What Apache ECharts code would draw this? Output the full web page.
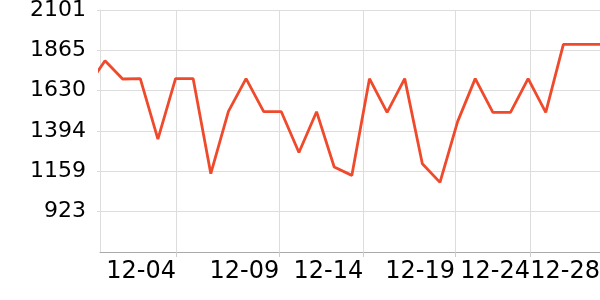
<!DOCTYPE html>
<html>
<head>
<meta charset="utf-8">
<script src="https://cdn.jsdelivr.net/npm/echarts@6/dist/echarts.min.js"></script>
<style>html,body{margin:0;padding:0;background:#fff}#c{width:600px;height:300px}</style>
</head>
<body>
<div id="c"></div>
<script>
// data point index positions (evenly spaced samples)
var values = [1655, 1805, 1698, 1700, 1347, 1700, 1700, 1145, 1509, 1700, 1507, 1507, 1269, 1507, 1184, 1135,
              1700, 1503, 1700, 1203, 1094, 1449, 1700, 1503, 1503, 1700, 1503, 1900, 1900, 1900, 1900];
var tickLabels = ['12-04', '12-09', '12-14', '12-19', '12-24', '12-28'];
var tickPositions = [5.027, 10.886, 15.651, 20.853, 25.107, 29.077];
var xMin = 0.715, xMax = 29.077;
var yMin = 687.5, yMax = 2101, yInterval = 235.583;

var seriesData = values.map(function (v, i) { return [i, v]; });

var chart = echarts.init(document.getElementById('c'), null, {renderer: 'canvas'});
chart.setOption({
  animation: false,
  grid: {left: 100, right: 0, top: 10, bottom: 48, containLabel: false, outerBoundsMode: 'none'},
  xAxis: {
    type: 'value',
    min: xMin, max: xMax,
    axisLine: {show: true, lineStyle: {color: '#aaaaaa', width: 1}},
    axisTick: {show: true, length: 5, customValues: tickPositions, lineStyle: {color: '#cccccc'}},
    splitLine: {show: true, lineStyle: {color: '#dddddd', width: 1}},
    axisLabel: {
      customValues: tickPositions,
      align: 'right',
      margin: 8,
      fontSize: 24,
      fontFamily: 'DejaVu Sans',
      color: '#000',
      formatter: function (v) {
        for (var i = 0; i < tickPositions.length; i++) {
          if (Math.abs(tickPositions[i] - v) < 1e-6) return tickLabels[i];
        }
        return '';
      }
    }
  },
  yAxis: {
    type: 'value',
    min: yMin, max: yMax, interval: yInterval,
    axisLine: {show: true, lineStyle: {color: '#dddddd'}},
    axisTick: {show: true, length: 3, lineStyle: {color: '#dddddd'}},
    splitLine: {show: true, lineStyle: {color: '#dddddd', width: 1}},
    axisLabel: {
      showMinLabel: false,
      margin: 14,
      fontSize: 22,
      fontFamily: 'DejaVu Sans',
      color: '#000',
      formatter: function (v) { return String(Math.round(v)); }
    }
  },
  series: [{
    type: 'line',
    data: seriesData,
    symbol: 'none',
    clip: true,
    lineStyle: {color: '#ef4a2c', width: 2.8}
  }]
});
</script>
</body>
</html>
